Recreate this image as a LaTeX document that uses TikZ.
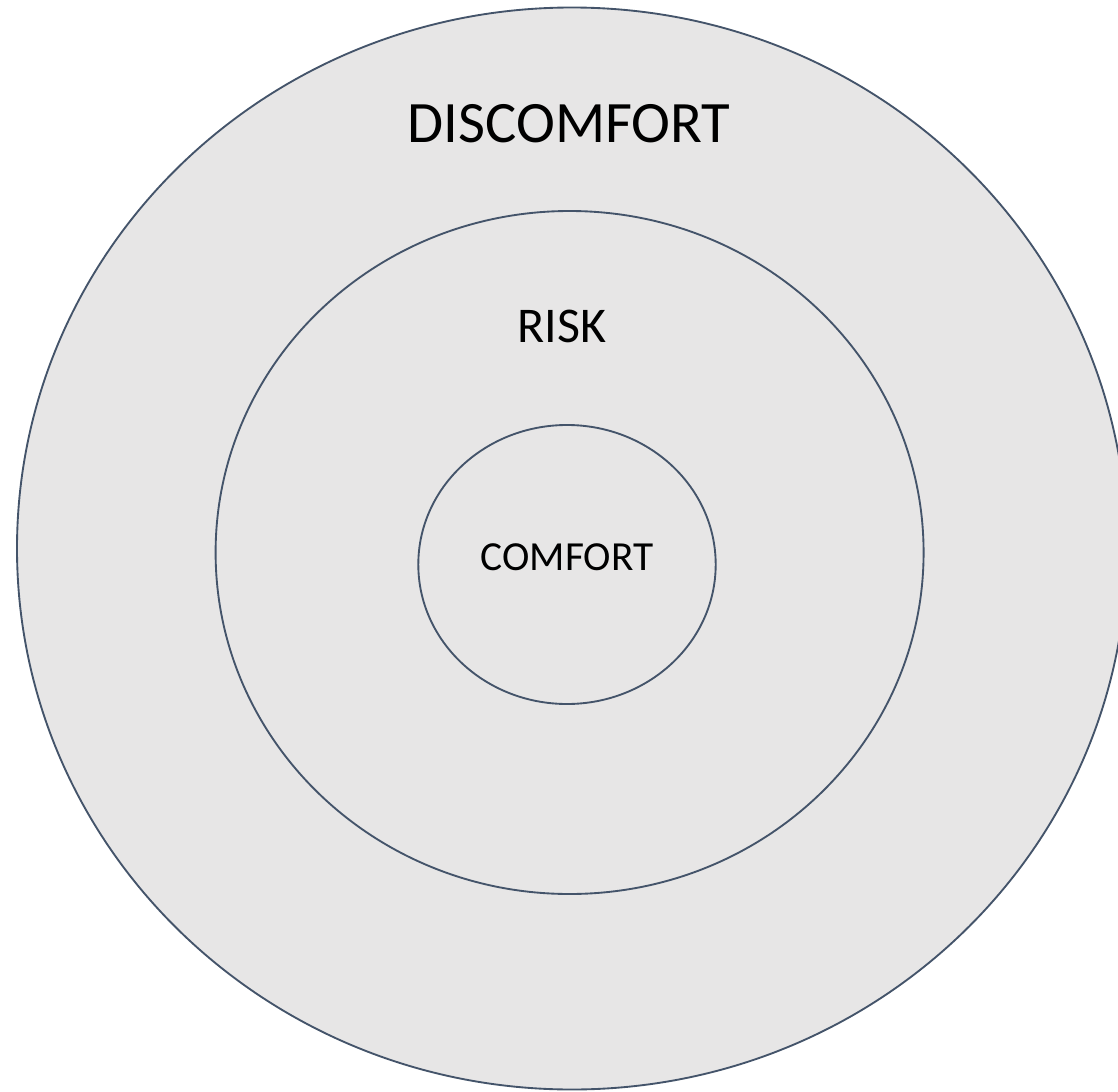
\documentclass[tikz,border=0pt]{standalone}
\usepackage{fontspec}
\setmainfont{Carlito}
\definecolor{ringline}{HTML}{44546A}
\definecolor{ringfill}{HTML}{E7E6E6}
\begin{document}
\begin{tikzpicture}[x=0.75pt,y=-0.75pt,
  ring/.style={draw=ringline,fill=ringfill,line width=1.4pt},
  zonelabel/.style={inner sep=0pt,text=black}]
\useasboundingbox (0,0) rectangle (1118,1092);
\clip (0,0) rectangle (1118,1092);
% concentric zones, outermost first
\draw[ring] (572,548.5) ellipse [x radius=555, y radius=541];
\draw[ring] (569.6,552.5) ellipse [x radius=354, y radius=341.5];
\draw[ring] (567,564.5) ellipse [x radius=148.7, y radius=139.5];
% zone names
\node[zonelabel,font=\fontsize{44}{52}\selectfont] (discomfort) at (569,124) {DISCOMFORT};
\node[zonelabel,font=\fontsize{37.5}{44}\selectfont] (risk) at (562,326) {RISK};
\node[zonelabel,font=\fontsize{31}{37}\selectfont] (comfort) at (567,557.5) {COMFORT};
\end{tikzpicture}
\end{document}
